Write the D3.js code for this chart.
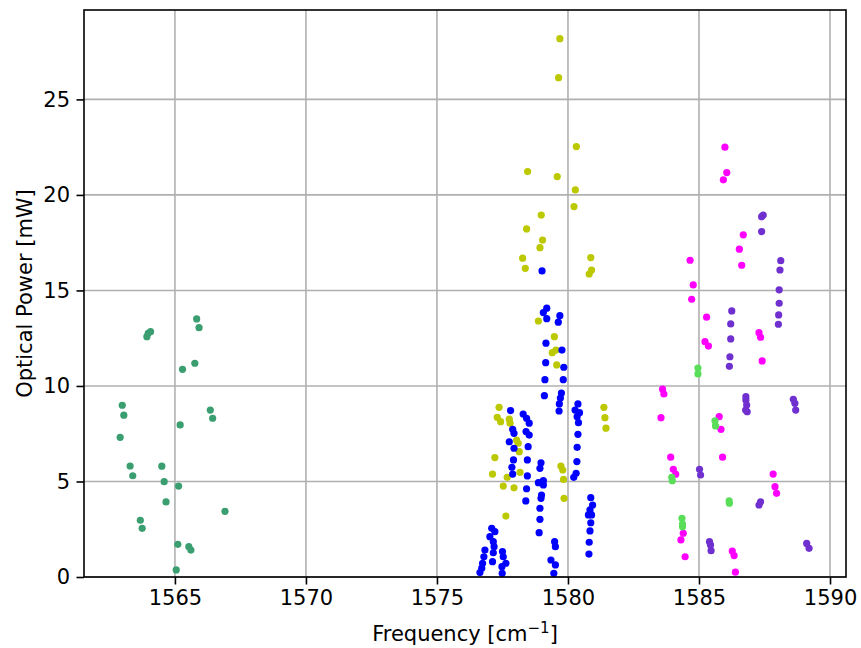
<!DOCTYPE html>
<html>
<head>
<meta charset="utf-8">
<script src="https://cdn.jsdelivr.net/npm/d3@7"></script>
<style>
  body { margin: 0; background: #fff; }
  text { font-family: "DejaVu Sans", sans-serif; }
</style>
</head>
<body>
<div id="chart"></div>
<script>
// series values, [frequency, power]
const greenPts = [
  [1565.83, 13.51], [1565.92, 13.05], [1564.07, 12.84], [1563.98, 12.76], [1563.93, 12.58],
  [1565.76, 11.19], [1565.29, 10.87], [1562.99, 8.99], [1566.35, 8.74], [1563.05, 8.47],
  [1566.44, 8.31], [1565.20, 7.96], [1562.91, 7.31], [1563.29, 5.81], [1564.50, 5.80],
  [1563.39, 5.30], [1564.59, 4.99], [1565.14, 4.76], [1564.66, 3.93], [1566.91, 3.44],
  [1563.68, 2.97], [1563.75, 2.55], [1565.11, 1.71], [1565.53, 1.59], [1565.61, 1.41],
  [1565.05, 0.37]
]
const yellowPts = [
  [1579.69, 28.18], [1579.64, 26.14], [1580.32, 22.53], [1578.46, 21.22], [1579.59, 20.96],
  [1580.28, 20.26], [1580.23, 19.39], [1578.98, 18.95], [1578.42, 18.22], [1579.03, 17.64],
  [1578.93, 17.24], [1578.27, 16.69], [1580.87, 16.72], [1578.37, 16.16], [1580.90, 16.07],
  [1580.81, 15.86], [1578.87, 13.40], [1579.48, 12.58], [1579.54, 11.88], [1579.40, 11.74],
  [1579.57, 11.10], [1577.37, 8.88], [1577.30, 8.36], [1577.43, 8.13], [1577.76, 8.26],
  [1577.79, 8.05], [1578.04, 7.17], [1578.10, 7.00], [1578.14, 6.56], [1577.21, 6.25],
  [1577.12, 5.39], [1578.17, 5.48], [1577.68, 5.22], [1577.53, 4.76], [1577.94, 4.67],
  [1577.63, 3.19], [1579.73, 5.81], [1579.80, 5.60], [1579.83, 5.11], [1579.85, 4.12],
  [1581.37, 8.88], [1581.41, 8.34], [1581.45, 7.79]
]
const bluePts = [
  [1579.01, 16.02], [1579.19, 14.07], [1579.06, 13.84], [1579.19, 13.52], [1579.69, 13.68],
  [1579.63, 13.34], [1579.16, 12.24], [1579.77, 11.88], [1579.15, 11.22], [1579.84, 10.98],
  [1579.12, 10.33], [1579.82, 10.33], [1579.10, 9.49], [1579.75, 9.63], [1579.71, 9.37],
  [1579.67, 9.06], [1579.66, 8.69], [1577.81, 8.71], [1578.29, 8.53], [1578.42, 8.31],
  [1578.52, 8.05], [1577.89, 7.73], [1577.94, 7.52], [1578.40, 7.61], [1578.52, 7.43],
  [1577.76, 7.08], [1577.94, 6.74], [1578.48, 6.82], [1577.92, 6.13], [1578.45, 6.13],
  [1578.97, 5.98], [1578.93, 5.69], [1577.86, 5.74], [1577.89, 5.39], [1578.45, 5.29],
  [1578.87, 4.94], [1579.06, 5.04], [1579.06, 4.82], [1578.42, 4.62], [1578.99, 4.29],
  [1578.97, 4.12], [1578.39, 3.98], [1578.93, 3.60], [1578.93, 3.02], [1578.90, 2.32],
  [1577.09, 2.55], [1577.21, 2.37], [1577.02, 2.11], [1577.15, 1.85], [1577.18, 1.59],
  [1576.83, 1.41], [1577.15, 1.27], [1577.50, 1.33], [1576.79, 1.06], [1577.53, 1.06],
  [1577.12, 0.80], [1577.63, 0.72], [1576.74, 0.72], [1576.71, 0.46], [1577.48, 0.54],
  [1576.64, 0.23], [1577.49, 0.19], [1579.49, 1.85], [1579.52, 1.59], [1579.35, 0.89],
  [1579.52, 0.63], [1579.46, 0.19], [1580.38, 9.06], [1580.27, 8.74], [1580.44, 8.60],
  [1580.35, 8.39], [1580.40, 8.08], [1580.38, 7.47], [1580.35, 6.79], [1580.34, 6.04],
  [1580.31, 5.43], [1580.22, 5.22], [1580.87, 4.15], [1580.94, 3.77], [1580.84, 3.51],
  [1580.78, 3.25], [1580.90, 3.25], [1580.87, 2.84], [1580.84, 2.41], [1580.81, 1.82],
  [1580.80, 1.20]
]
const magentaPts = [
  [1585.99, 22.50], [1586.06, 21.17], [1585.93, 20.79], [1586.69, 17.91], [1586.54, 17.16],
  [1586.63, 16.32], [1584.66, 16.58], [1584.78, 15.29], [1584.72, 14.54], [1585.29, 13.60],
  [1585.23, 12.32], [1585.36, 12.09], [1583.61, 9.83], [1583.66, 9.58], [1583.55, 8.34],
  [1585.77, 8.39], [1585.84, 7.73], [1585.90, 6.27], [1583.92, 6.27], [1584.02, 5.64],
  [1584.11, 5.38], [1584.40, 2.29], [1584.31, 1.94], [1584.47, 1.06], [1586.27, 1.36],
  [1586.34, 1.12], [1586.39, 0.25], [1587.29, 12.79], [1587.35, 12.55], [1587.41, 11.31],
  [1587.83, 5.39], [1587.90, 4.73], [1587.96, 4.38]
]
const purplePts = [
  [1586.25, 13.93], [1586.21, 13.25], [1586.21, 12.46], [1586.18, 11.53], [1586.16, 11.03],
  [1586.79, 9.44], [1586.79, 9.27], [1586.82, 9.00], [1586.84, 8.65], [1586.78, 8.74],
  [1585.02, 5.64], [1585.06, 5.34], [1585.40, 1.85], [1585.44, 1.68], [1585.46, 1.38],
  [1587.45, 18.95], [1587.39, 18.86], [1587.39, 18.08], [1588.12, 16.56], [1588.09, 16.07],
  [1588.06, 15.03], [1588.06, 14.33], [1588.04, 13.72], [1588.03, 13.23], [1588.60, 9.30],
  [1588.66, 9.09], [1588.69, 8.74], [1587.35, 3.94], [1587.29, 3.77], [1589.11, 1.76],
  [1589.20, 1.50]
]
const lightGreenPts = [
  [1584.96, 10.94], [1584.96, 10.63], [1585.61, 8.18], [1585.63, 7.91], [1583.96, 5.22],
  [1583.98, 5.04], [1586.15, 3.99], [1586.16, 3.86], [1584.35, 3.07], [1584.37, 2.77],
  [1584.37, 2.63]
]
const xTicks = [1565, 1570, 1575, 1580, 1585, 1590]
const yTicks = [0, 5, 10, 15, 20, 25]

const series = [
  {pts: greenPts, color: "#3a9e70"},
  {pts: yellowPts, color: "#bcc800"},
  {pts: bluePts, color: "#0000ff"},
  {pts: magentaPts, color: "#ff00ff"},
  {pts: purplePts, color: "#7030d0"},
  {pts: lightGreenPts, color: "#5ade5a"}
]

const margin = {top: 10, right: 15, bottom: 71, left: 84}
const width = 861 - margin.left - margin.right
const height = 648 - margin.top - margin.bottom
const fs = 21

const svg = d3.select("#chart")
  .append("svg")
    .attr("width", 861)
    .attr("height", 648)
  .append("g")
    .attr("transform", "translate(" + margin.left + "," + margin.top + ")")

const x = d3.scaleLinear().domain([1561.53, 1590.61]).range([0, width])
const y = d3.scaleLinear().domain([0, 29.68]).range([height, 0])

// grid
svg.append("g").selectAll("line").data(xTicks).enter().append("line")
  .attr("x1", d => x(d)).attr("x2", d => x(d))
  .attr("y1", 0).attr("y2", height)
  .style("stroke", "#b0b0b0").style("stroke-width", 1.6)
svg.append("g").selectAll("line").data(yTicks).enter().append("line")
  .attr("x1", 0).attr("x2", width)
  .attr("y1", d => y(d)).attr("y2", d => y(d))
  .style("stroke", "#b0b0b0").style("stroke-width", 1.6)

// axes
const xAxis = svg.append("g")
  .attr("transform", "translate(0," + height + ")")
  .call(d3.axisBottom(x).tickValues(xTicks).tickFormat(d3.format("d")).tickSize(7.5).tickPadding(6))
const yAxis = svg.append("g")
  .call(d3.axisLeft(y).tickValues(yTicks).tickFormat(d3.format("d")).tickSize(7.5).tickPadding(6.5))
;[xAxis, yAxis].forEach(a => {
  a.select(".domain").remove()
  a.selectAll("line").style("stroke", "#000").style("stroke-width", 1.6)
  a.selectAll("text").attr("font-size", fs).attr("fill", "#000")
    .style("font-family", "DejaVu Sans")
})

// dots
series.forEach(s => {
  svg.append("g")
    .selectAll("circle")
    .data(s.pts)
    .enter()
    .append("circle")
      .attr("cx", d => x(d[0]))
      .attr("cy", d => y(d[1]))
      .attr("r", 3.6)
      .style("fill", s.color)
})

// frame
svg.append("rect")
  .attr("width", width).attr("height", height)
  .style("fill", "none").style("stroke", "#000").style("stroke-width", 1.6)

// labels
const xl = svg.append("text")
  .attr("x", width / 2).attr("y", height + 64)
  .attr("text-anchor", "middle").attr("font-size", fs)
xl.append("tspan").text("Frequency [cm")
xl.append("tspan").text("\u22121").attr("font-size", 15).attr("dy", -8)
xl.append("tspan").text("]").attr("dy", 8)

svg.append("text")
  .attr("transform", "translate(-52.5," + height / 2 + ") rotate(-90)")
  .attr("text-anchor", "middle").attr("font-size", fs)
  .text("Optical Power [mW]")
</script>
</body>
</html>
